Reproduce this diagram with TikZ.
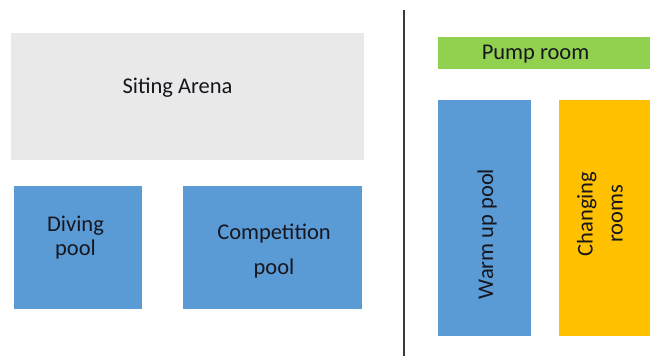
\documentclass[tikz,border=0pt]{standalone}
\usepackage{fontspec}
\setmainfont{Carlito}
\definecolor{arenagray}{HTML}{E9E9E9}
\definecolor{poolblue}{HTML}{5B9BD5}
\definecolor{pumpgreen}{HTML}{92D050}
\definecolor{changeorange}{HTML}{FFC000}
\definecolor{txt}{HTML}{16161E}
\definecolor{divider}{HTML}{3A3A3A}
\begin{document}
\begin{tikzpicture}[x=1pt,y=-1pt,
  room/.style={draw=none,inner sep=0pt,outer sep=0pt},
  lbl/.style={inner sep=0pt,text=txt,font=\fontsize{22.5}{25}\selectfont,align=center}]
\useasboundingbox (0,0) rectangle (650,356);
\node[room,fill=arenagray,minimum width=353pt,minimum height=127pt] (arena) at (187.5,96.5) {};
\node[room,fill=poolblue,minimum width=128pt,minimum height=123pt] (diving) at (78,247.5) {};
\node[room,fill=poolblue,minimum width=179pt,minimum height=123pt] (comp) at (272.5,247.5) {};
\node[room,fill=pumpgreen,minimum width=212pt,minimum height=32pt] (pump) at (544,53) {};
\node[room,fill=poolblue,minimum width=93pt,minimum height=236pt] (warm) at (484.5,218) {};
\node[room,fill=changeorange,minimum width=91pt,minimum height=236pt] (change) at (604.5,218) {};
\coordinate (divtop) at (404,10);
\coordinate (divbot) at (404,356);
\draw[divider,line width=1.3pt] (divtop) -- (divbot);
\node[lbl] (tarena) at (177.5,88) {Siting Arena};
\node[lbl,font=\fontsize{22.5}{24}\selectfont] (tdiving) at (75.5,238) {Diving\\pool};
\node[lbl,font=\fontsize{22.5}{35}\selectfont] (tcomp) at (274,251) {Competition\\pool};
\node[lbl] (tpump) at (535.5,54) {Pump room};
\node[lbl,rotate=90] (twarm) at (487,234) {Warm up pool};
\node[lbl,rotate=90,font=\fontsize{22.5}{30}\selectfont] (tchange) at (600,214) {Changing\\rooms};
\end{tikzpicture}
\end{document}
